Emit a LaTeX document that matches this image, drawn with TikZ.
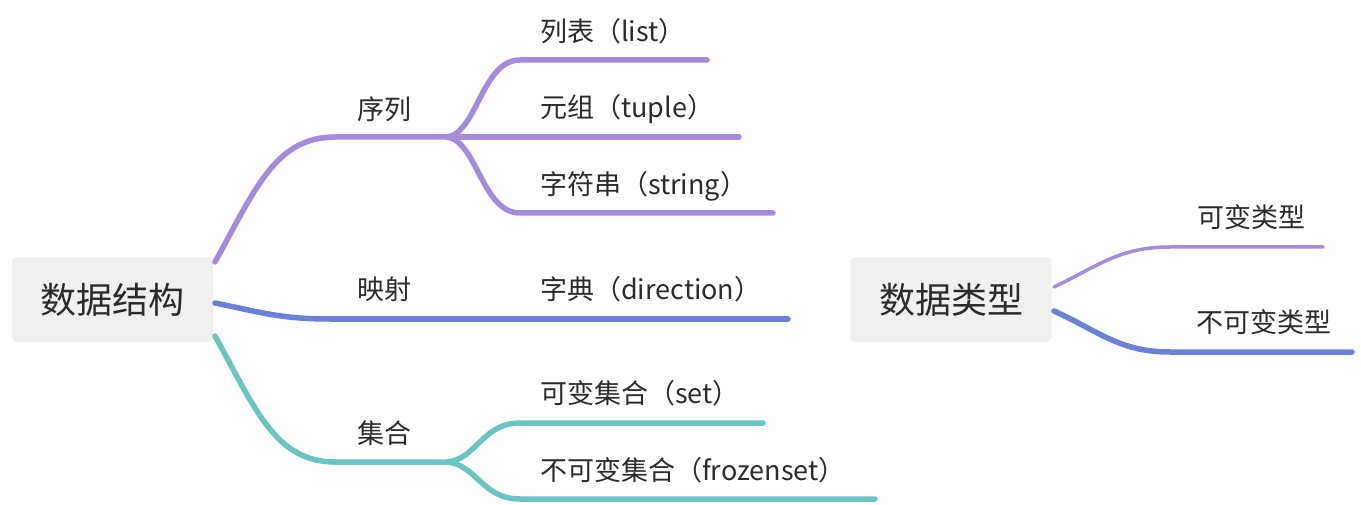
\documentclass[tikz,border=0pt]{standalone}
\usepackage{fontspec}
\setmainfont{Noto Sans CJK SC}
\definecolor{cpurple}{HTML}{A68ADB}
\definecolor{cblue}{HTML}{6E7FD7}
\definecolor{cteal}{HTML}{6CC4C2}
\definecolor{boxfill}{HTML}{EFF0F0}
\definecolor{txt}{HTML}{2B2B2B}
\begin{document}
\begin{tikzpicture}[x=1pt,y=-1pt,
  rootbox/.style={fill=boxfill,rounded corners=5pt,inner sep=0pt,minimum width=201pt,minimum height=85pt,text=txt,font=\fontsize{36}{40}\selectfont},
  lbl/.style={anchor=base west,inner sep=0pt,text=txt,font=\fontsize{27}{31}\selectfont},
  branch/.style={line width=5.5pt,line cap=round},
  thinbranch/.style={line width=3.5pt,line cap=round}]
\useasboundingbox (0,0) rectangle (1361,505);
% roots
\node[rootbox] (ds) at (112.5,299.5) {数据结构};
\node[rootbox] (dt) at (951,299.5) {数据类型};
% coordinates
\coordinate (s1) at (215,262);
\coordinate (s2) at (215,303);
\coordinate (s3) at (215,336);
\coordinate (f1) at (447,137);
\coordinate (f3) at (447,462);
\coordinate (e2) at (788,319);
\coordinate (eL) at (707,60);
\coordinate (eT) at (739,137);
\coordinate (eS) at (773,213);
\coordinate (eSet) at (763,423);
\coordinate (eFz) at (875,499);
\coordinate (r1) at (1054,287);
\coordinate (r2) at (1054,311);
\coordinate (eM) at (1323,247);
\coordinate (eI) at (1352,352);
% level 1 left
\draw[branch,cpurple] (s1) .. controls (255,190) and (275,137) .. (335,137) -- (f1);
\draw[branch,cblue] (s2) .. controls (260,312) and (280,319) .. (330,319) -- (e2);
\draw[branch,cteal] (s3) .. controls (255,408) and (275,462) .. (335,462) -- (f3);
% level 2 purple
\draw[branch,cpurple] (f1) .. controls (477,133) and (482,60) .. (520,60) -- (eL);
\draw[branch,cpurple] (f1) -- (eT);
\draw[branch,cpurple] (f1) .. controls (477,141) and (482,213) .. (520,213) -- (eS);
% level 2 teal
\draw[branch,cteal] (f3) .. controls (477,459) and (482,423) .. (520,423) -- (eSet);
\draw[branch,cteal] (f3) .. controls (477,465) and (482,499) .. (520,499) -- (eFz);
% right
\draw[thinbranch,cpurple] (r1) .. controls (1100,265) and (1120,247) .. (1170,247) -- (eM);
\draw[branch,cblue] (r2) .. controls (1100,332) and (1120,352) .. (1170,352) -- (eI);
% labels
\node[lbl] (xl) at (357,120) {序列};
\node[lbl] (ys) at (357,300) {映射};
\node[lbl] (jh) at (357,443) {集合};
\node[lbl] (lb) at (540,42) {列表（list）};
\node[lbl] (yz) at (540,118) {元组（tuple）};
\node[lbl] (zfc) at (540,195) {字符串（string）};
\node[lbl] (zd) at (540,300) {字典（direction）};
\node[lbl] (kbjh) at (540,403) {可变集合（set）};
\node[lbl] (bkbjh) at (540,480) {不可变集合（frozenset）};
\node[lbl] (kblx) at (1197,228) {可变类型};
\node[lbl] (bkblx) at (1196,333) {不可变类型};
\end{tikzpicture}
\end{document}
